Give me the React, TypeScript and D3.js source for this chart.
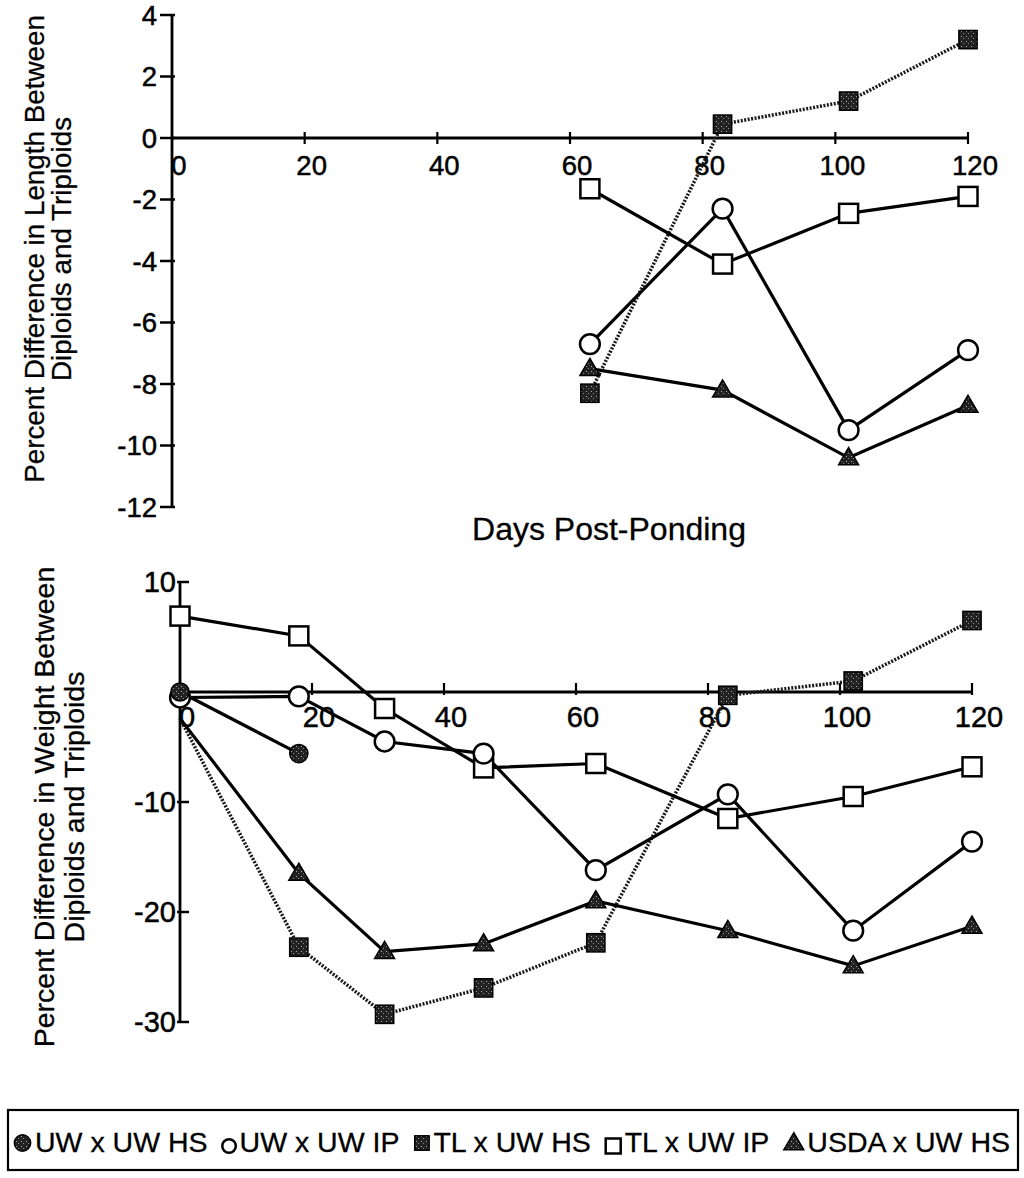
import React, { useEffect, useRef } from "react";
import * as d3 from "d3";

// Sampling days (days post-ponding)
const LENGTH_DAYS = [63, 83, 102, 120];
const WEIGHT_DAYS = [0, 18, 31, 46, 63, 83, 102, 120];

// Cross names, in legend order
const CROSSES = ["UW x UW HS", "UW x UW IP", "TL x UW HS", "TL x UW IP", "USDA x UW HS"];

// Percent difference in length (diploids vs triploids)
const lengthUWxIP = [-6.7, -2.3, -9.5, -6.9];
const lengthTLxHS = [-8.3, 0.45, 1.2, 3.2];
const lengthTLxIP = [-1.65, -4.1, -2.45, -1.9];
const lengthUSDAxHS = [-7.5, -8.2, -10.4, -8.7];

// Percent difference in weight (diploids vs triploids)
const weightUWxHS = [0, -5.6];
const weightUWxIP = [-0.5, -0.4, -4.5, -5.6, -16.2, -9.3, -21.7, -13.6];
const weightTLxHS = [-2.4, -23.2, -29.3, -26.9, -22.8, -0.3, 1.0, 6.5];
const weightTLxIP = [6.9, 5.1, -1.5, -6.9, -6.5, -11.5, -9.5, -6.8];
const weightUSDAxHS = [-2.4, -16.5, -23.6, -22.9, -19.0, -21.7, -24.9, -21.3];

// Axis ticks
const DAY_TICKS = [0, 20, 40, 60, 80, 100, 120];
const LENGTH_TICKS = [4, 2, 0, -2, -4, -6, -8, -10, -12];
const WEIGHT_TICKS = [10, -10, -20, -30];

const X_TITLE = "Days Post-Ponding";
const LENGTH_TITLE = ["Percent Difference in Length Between", "Diploids and Triploids"];
const WEIGHT_TITLE = ["Percent Difference in Weight Between", "Diploids and Triploids"];

const FONT = "'Liberation Sans', Arial, Helvetica, sans-serif";

type MarkerKind = "filledCircle" | "openCircle" | "filledSquare" | "openSquare" | "triangle";
const MARKERS: MarkerKind[] = ["filledCircle", "openCircle", "filledSquare", "openSquare", "triangle"];

function drawMarker(
  g: d3.Selection<SVGGElement, unknown, null, undefined>,
  kind: MarkerKind,
  cx: number,
  cy: number,
  s: number
) {
  if (kind === "filledCircle") {
    g.append("circle").attr("cx", cx).attr("cy", cy).attr("r", s * 0.48)
      .attr("fill", "url(#speckle)").attr("stroke", "#000").attr("stroke-width", 1.5);
  } else if (kind === "openCircle") {
    g.append("circle").attr("cx", cx).attr("cy", cy).attr("r", s * 0.52)
      .attr("fill", "#fff").attr("stroke", "#000").attr("stroke-width", 2.5);
  } else if (kind === "filledSquare") {
    g.append("rect").attr("x", cx - s * 0.48).attr("y", cy - s * 0.48)
      .attr("width", s * 0.96).attr("height", s * 0.96)
      .attr("fill", "url(#speckle)").attr("stroke", "#000").attr("stroke-width", 1.5);
  } else if (kind === "openSquare") {
    g.append("rect").attr("x", cx - s * 0.5).attr("y", cy - s * 0.5)
      .attr("width", s).attr("height", s)
      .attr("fill", "#fff").attr("stroke", "#000").attr("stroke-width", 2.5);
  } else {
    const h = s * 0.9;
    const w = s * 1.05;
    g.append("path")
      .attr("d", `M${cx},${cy - h * 0.6}L${cx + w / 2},${cy + h * 0.4}L${cx - w / 2},${cy + h * 0.4}Z`)
      .attr("fill", "url(#speckle)").attr("stroke", "#000").attr("stroke-width", 1.5);
  }
}

interface Series {
  kind: MarkerKind;
  values: number[];
  dotted: boolean;
  hidden?: number[];
}

interface PanelOpts {
  tickFont: number;
  yTickSpan: [number, number];
  yLabelGap: number;
  xTickSpan: [number, number];
  xLabelDy: number;
  title: string[];
  titleX: [number, number];
  titleY: number;
  titleSize: number;
}

export default function App() {
  const ref = useRef<SVGSVGElement>(null);

  useEffect(() => {
    const svg = d3.select(ref.current as SVGSVGElement);
    svg.selectAll("*").remove();

    const defs = svg.append("defs");
    const pat = defs.append("pattern").attr("id", "speckle")
      .attr("width", 5).attr("height", 5).attr("patternUnits", "userSpaceOnUse");
    pat.append("rect").attr("width", 5).attr("height", 5).attr("fill", "#222");
    pat.append("rect").attr("x", 1).attr("y", 1).attr("width", 1).attr("height", 1).attr("fill", "#aaa");
    pat.append("rect").attr("x", 3).attr("y", 3).attr("width", 1).attr("height", 1).attr("fill", "#888");

    // Text gets a hairline stroke so it reads as heavy as the printed figure
    const root = svg.append("g").attr("font-family", FONT).attr("fill", "#000");
    const addText = (g: d3.Selection<SVGGElement, unknown, null, undefined>) =>
      g.append("text").attr("stroke", "#000").attr("stroke-width", 0.5);

    const drawPanel = (
      x: d3.ScaleLinear<number, number>,
      y: d3.ScaleLinear<number, number>,
      days: number[],
      series: Series[],
      yTicks: number[],
      o: PanelOpts
    ) => {
      const g = root.append("g");
      const x0 = x(0);
      const yDom = y.domain();

      // y axis
      g.append("line").attr("x1", x0).attr("x2", x0)
        .attr("y1", y(yDom[1])).attr("y2", y(yDom[0]))
        .attr("stroke", "#000").attr("stroke-width", 2.8);
      yTicks.forEach((t) => {
        g.append("line").attr("x1", x0 + o.yTickSpan[0]).attr("x2", x0 + o.yTickSpan[1])
          .attr("y1", y(t)).attr("y2", y(t)).attr("stroke", "#000").attr("stroke-width", 2.5);
        addText(g).attr("x", x0 - o.yLabelGap).attr("y", y(t) + o.tickFont * 0.36)
          .attr("text-anchor", "end").attr("font-size", o.tickFont).text(String(t));
      });

      // x axis along zero
      const y0 = y(0);
      g.append("line").attr("x1", x0).attr("x2", x(120)).attr("y1", y0).attr("y2", y0)
        .attr("stroke", "#000").attr("stroke-width", 2.8);
      DAY_TICKS.forEach((t) => {
        if (t > 0) {
          g.append("line").attr("x1", x(t)).attr("x2", x(t))
            .attr("y1", y0 + o.xTickSpan[0]).attr("y2", y0 + o.xTickSpan[1])
            .attr("stroke", "#000").attr("stroke-width", 2.2);
        }
        addText(g).attr("x", x(t) + 7).attr("y", y0 + o.xLabelDy)
          .attr("text-anchor", "middle").attr("font-size", o.tickFont).text(String(t));
      });

      // y title (two rotated lines)
      o.title.forEach((line, i) => {
        addText(g).attr("transform", `translate(${o.titleX[i]},${o.titleY}) rotate(-90)`)
          .attr("stroke-width", 0.3)
          .attr("text-anchor", "middle").attr("dominant-baseline", "central")
          .attr("font-size", o.titleSize).text(line);
      });

      // series lines
      const lineGen = d3.line<[number, number]>().x((d) => x(d[0])).y((d) => y(d[1]));
      series.forEach((s) => {
        const pts: [number, number][] = s.values.map((v, i) => [days[i], v]);
        g.append("path").attr("d", lineGen(pts) as string).attr("fill", "none")
          .attr("stroke", s.dotted ? "#1a1a1a" : "#000")
          .attr("stroke-width", s.dotted ? 3.5 : 3.2)
          .attr("stroke-dasharray", s.dotted ? "2 1.5" : null);
      });
      // markers on top
      series.forEach((s) => {
        s.values.forEach((v, i) => {
          if (s.hidden && s.hidden.includes(i)) return;
          drawMarker(g, s.kind, x(days[i]), y(v), 19);
        });
      });
    };

    // Length panel
    const xLen = d3.scaleLinear().domain([0, 120]).range([172, 968]);
    const yLen = d3.scaleLinear().domain([-12, 4]).range([507, 15]);
    drawPanel(
      xLen, yLen, LENGTH_DAYS,
      [
        { kind: "filledSquare", values: lengthTLxHS, dotted: true },
        { kind: "openSquare", values: lengthTLxIP, dotted: false },
        { kind: "triangle", values: lengthUSDAxHS, dotted: false },
        { kind: "openCircle", values: lengthUWxIP, dotted: false },
      ],
      LENGTH_TICKS,
      {
        tickFont: 27.5, yTickSpan: [-12, 3], yLabelGap: 15, xTickSpan: [-6, 6], xLabelDy: 37,
        title: LENGTH_TITLE, titleX: [34, 61], titleY: 249, titleSize: 27.8,
      }
    );

    // x title between panels
    addText(root).attr("x", 609).attr("y", 540).attr("text-anchor", "middle")
      .attr("stroke-width", 0.3).attr("font-size", 32).text(X_TITLE);

    // Weight panel
    const xWt = d3.scaleLinear().domain([0, 120]).range([180, 972]);
    const yWt = d3.scaleLinear().domain([-30, 10]).range([1022, 582]);
    drawPanel(
      xWt, yWt, WEIGHT_DAYS,
      [
        { kind: "filledSquare", values: weightTLxHS, dotted: true, hidden: [0] },
        { kind: "openSquare", values: weightTLxIP, dotted: false },
        { kind: "triangle", values: weightUSDAxHS, dotted: false, hidden: [0] },
        { kind: "openCircle", values: weightUWxIP, dotted: false },
        { kind: "filledCircle", values: weightUWxHS, dotted: false },
      ],
      WEIGHT_TICKS,
      {
        tickFont: 29, yTickSpan: [-3, 9], yLabelGap: 4, xTickSpan: [-9, 3], xLabelDy: 35,
        title: WEIGHT_TITLE, titleX: [44, 74], titleY: 807, titleSize: 28.5,
      }
    );

    // Legend
    const lg = root.append("g");
    const boxL = 8, boxR = 1018, boxT = 1110, boxB = 1170;
    lg.append("rect").attr("x", boxL).attr("y", boxT).attr("width", boxR - boxL).attr("height", boxB - boxT)
      .attr("fill", "#fff").attr("stroke", "#000").attr("stroke-width", 2.2);
    const baseline = 1152;
    const mw = [17, 13, 15, 15, 19];
    const texts = CROSSES.map((c) =>
      addText(lg).attr("y", baseline).attr("stroke-width", 0.3).attr("font-size", 28.5).text(c)
    );
    const widths = texts.map((t) => (t.node() as SVGTextElement).getComputedTextLength());
    const padL = 6, padR = 8, markGap = 4;
    const used = d3.sum(widths) + d3.sum(mw) + markGap * CROSSES.length;
    const gap = (boxR - boxL - padL - padR - used) / (CROSSES.length - 1);
    let cursor = boxL + padL;
    CROSSES.forEach((_, i) => {
      const kind = MARKERS[i];
      const cx = cursor + mw[i] / 2;
      const cy = kind === "openCircle" || kind === "openSquare" ? baseline - 6 : baseline - 9;
      drawMarker(lg, kind, cx, cy, mw[i]);
      const tx = cursor + mw[i] + markGap;
      texts[i].attr("x", tx).raise();
      cursor = tx + widths[i] + gap;
    });
  }, []);

  return (
    <svg
      ref={ref}
      width={1024}
      height={1178}
      style={{ position: "absolute", left: 0, top: 0, display: "block", background: "#fff" }}
    />
  );
}
